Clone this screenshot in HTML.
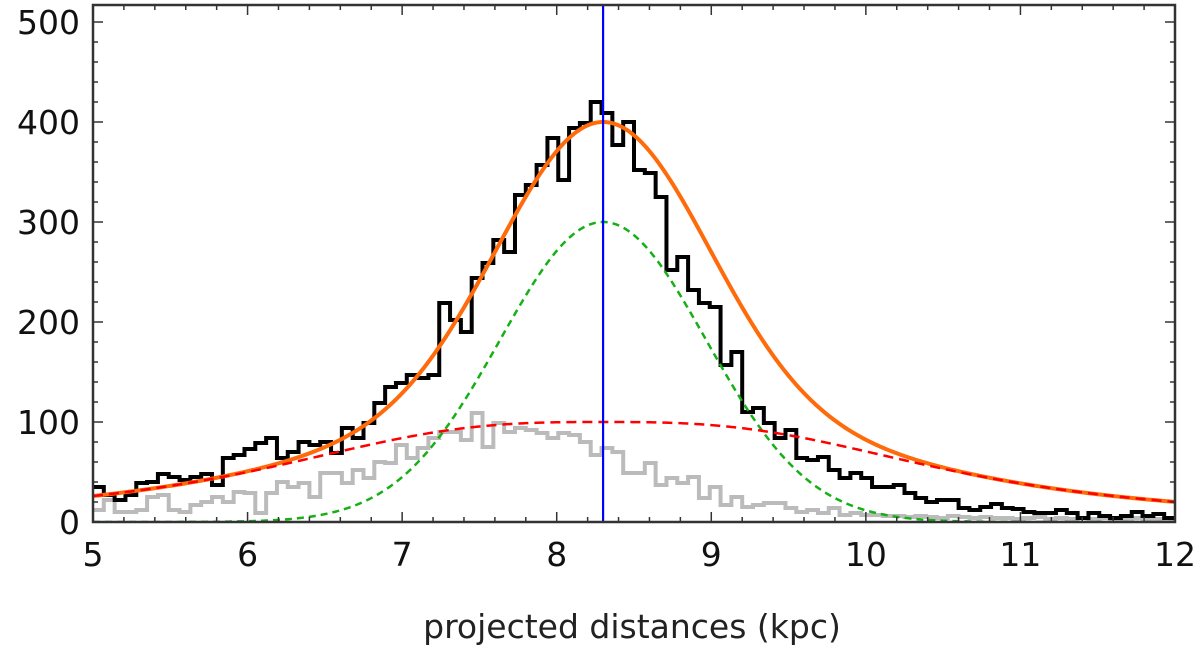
<!DOCTYPE html>
<html><head><meta charset="utf-8"><style>
html,body{margin:0;padding:0;background:#fff;}
svg{display:block;font-family:"DejaVu Sans","Liberation Sans",sans-serif;}
</style></head><body>
<svg id="chart" width="1200" height="650"></svg>
<script>
const binStart = 5, binWidth = 0.07;
const totalCounts = [35,27,22,27,39,40,48,45,42,45,48,37,64,67,73,79,84,64,70,80,77,80,69,94,84,99,119,
135,139,147,144,147,219,202,190,244,259,282,270,327,337,357,384,342,394,399,420,409,377,400,
352,349,325,252,265,232,219,215,157,170,110,114,99,84,92,64,62,65,52,44,49,44,
35,35,37,29,24,20,22,22,14,12,15,18,14,13,10,9,9,12,9,4,9,6,4,6,10,6,8,4];
const subsetCounts = [12,22,10,10,12,25,27,12,10,17,20,25,20,30,29,9,29,40,35,39,25,49,49,39,52,44,60,
59,77,64,74,84,90,90,82,109,75,99,90,94,92,89,84,89,87,80,67,74,70,49,
49,59,37,44,39,45,24,35,17,25,15,17,19,19,14,10,12,9,14,7,9,7,
7,6,6,5,6,5,4,6,5,4,5,4,4,3,4,5,3,4,3,4,3,4,3,3,4,3,3,3];
const centerLine = [8.3];
const gaussParams = [300, 8.3, 0.667];     // amplitude, center, sigma
const broadParams = [100, 8.3, 2.3, 2.9]; // amplitude, center, width, power
const xTicks = [5,6,7,8,9,10,11,12];
const yTicks = [0,100,200,300,400,500];

const L=93,R=1175,T=5,B=522;
const xS=v=>L+(v-5)/(12-5)*(R-L);
const yS=v=>B-(v/500)*(B-22);
const NS="http://www.w3.org/2000/svg";
const svg=document.getElementById('chart');
function mk(tag,attrs,parent){const e=document.createElementNS(NS,tag);for(const k in attrs)e.setAttribute(k,attrs[k]);(parent||svg).appendChild(e);return e;}
const clip=mk('clipPath',{id:'pc'});mk('rect',{x:L,y:T,width:R-L,height:B-T},clip);
const g=mk('g',{'clip-path':'url(#pc)'});

function stepPath(arr){let d='';arr.forEach((v,i)=>{const x0=xS(binStart+i*binWidth),x1=xS(binStart+(i+1)*binWidth),y=yS(v);d+=(i===0?'M'+x0+','+y:'L'+x0+','+y)+'L'+x1+','+y;});return d;}
const gauss=x=>gaussParams[0]*Math.exp(-Math.pow(x-gaussParams[1],2)/(2*gaussParams[2]*gaussParams[2]));
const broad=x=>broadParams[0]/(1+Math.pow(Math.abs(x-broadParams[1])/broadParams[2],broadParams[3]));
function curve(f){let d='';for(let i=0;i<=700;i++){const x=5+i*0.01;d+=(i?'L':'M')+xS(x).toFixed(2)+','+yS(f(x)).toFixed(2);}return d;}

const sub=mk('path',{d:stepPath(subsetCounts),fill:'none',stroke:'#bbbbbb','stroke-width':4},g);


const tot=mk('path',{d:stepPath(totalCounts),fill:'none',stroke:'#000','stroke-width':4},g);


const gc=mk('path',{d:curve(gauss),fill:'none',stroke:'#16b016','stroke-width':2.5,'stroke-dasharray':'7,5'},g);


const oc=mk('path',{d:curve(x=>gauss(x)+broad(x)),fill:'none',stroke:'#ff6a0a','stroke-width':4},g);


const rc=mk('path',{d:curve(broad),fill:'none',stroke:'#ff0000','stroke-width':2.5,'stroke-dasharray':'10,6'},g);


centerLine.forEach(c=>{const l=mk('line',{x1:xS(c),x2:xS(c),y1:T,y2:B,stroke:'#0000ff','stroke-width':2.2},g);

});

const frame=mk('rect',{x:L,y:T,width:R-L,height:B-T,fill:'none',stroke:'#333','stroke-width':2.5});


for(let v=5;v<=12.001;v+=0.2){const x=xS(v);const maj=Math.abs(v-Math.round(v))<1e-6;const len=maj?10:5;
mk('line',{x1:x,x2:x,y1:B,y2:B-len,stroke:'#333','stroke-width':1.5});mk('line',{x1:x,x2:x,y1:T,y2:T+len,stroke:'#333','stroke-width':1.5});}
for(let v=0;v<=510;v+=20){const y=yS(v);if(y<T)continue;const maj=v%100===0;const len=maj?10:5;
mk('line',{x1:L,x2:L+len,y1:y,y2:y,stroke:'#333','stroke-width':1.5});mk('line',{x1:R,x2:R-len,y1:y,y2:y,stroke:'#333','stroke-width':1.5});}
xTicks.forEach(v=>{const t=mk('text',{x:xS(v),y:566,'text-anchor':'middle','font-size':33,fill:'#111'});t.textContent=v;

});
yTicks.forEach(v=>{const t=mk('text',{x:80,y:yS(v)+12,'text-anchor':'end','font-size':33,fill:'#111'});t.textContent=v;

});
const xl=mk('text',{x:632,y:638,'text-anchor':'middle','font-size':33,fill:'#222'});xl.textContent='projected distances (kpc)';


</script>
</body></html>
